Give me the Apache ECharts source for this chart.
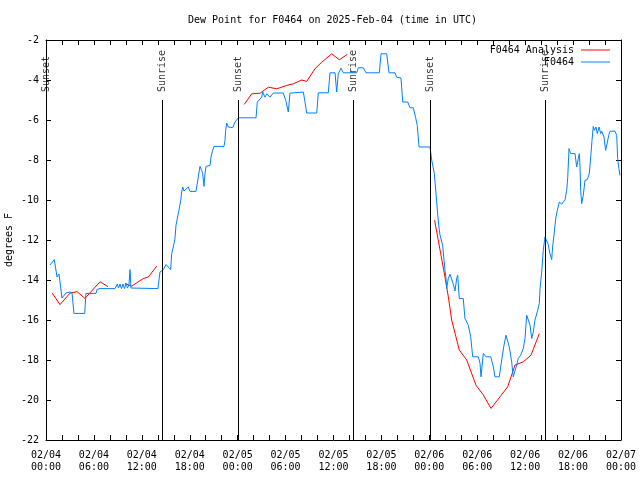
<!DOCTYPE html>
<html>
<head>
<meta charset="utf-8">
<script src="https://cdn.jsdelivr.net/npm/echarts@6/dist/echarts.min.js"></script>
<style>html,body{margin:0;padding:0;background:#fff}#c{width:640px;height:480px}</style>
</head>
<body>
<div id="c"></div>
<script>
// Hours since 2025-02-04 00:00 UTC
var xTickLabels = ['02/04\n00:00','02/04\n06:00','02/04\n12:00','02/04\n18:00','02/05\n00:00','02/05\n06:00','02/05\n12:00','02/05\n18:00','02/06\n00:00','02/06\n06:00','02/06\n12:00','02/06\n18:00','02/07\n00:00'];

var obsHours = [0.5,1.04,1.38,1.63,2.0,2.25,2.5,3.0,3.26,3.5,4.85,5.0,6.26,6.39,6.76,8.64,8.93,9.08,9.27,9.45,9.64,9.83,10.02,10.2,10.39,10.52,10.64,10.89,14.02,14.27,14.69,15.03,15.31,15.53,15.61,15.74,15.94,16.15,16.28,16.49,16.65,16.87,16.99,17.12,17.28,17.53,17.82,18.03,18.78,18.95,19.07,19.28,19.5,19.62,19.78,19.91,20.04,20.54,20.66,20.87,21.04,22.29,22.41,22.5,22.63,22.83,23.38,23.67,24.08,26.3,26.46,27.01,27.13,27.42,27.64,28.05,28.46,29.71,30.02,30.34,30.55,32.22,32.43,32.64,33.9,34.1,35.35,35.56,36.19,36.4,36.6,36.94,37.23,38.9,39.1,39.73,40.07,41.74,41.95,42.66,42.95,43.7,43.91,44.45,44.67,45.29,45.58,46.0,46.29,46.49,46.71,48.08,48.3,48.62,48.84,49.05,49.25,49.34,49.55,49.67,49.84,49.96,50.09,50.17,50.37,50.59,50.8,51.0,51.21,51.42,51.55,51.75,52.25,52.46,52.88,53.18,53.43,54.13,54.35,54.47,54.76,55.1,55.69,56.01,56.22,56.76,57.06,57.35,57.6,57.76,58.01,58.31,58.51,58.73,58.94,59.14,59.44,59.77,59.98,60.19,60.32,60.61,60.82,61.02,61.23,61.45,61.57,61.77,61.86,62.07,62.27,62.48,62.69,62.89,63.1,63.32,63.44,63.61,63.74,63.86,64.03,64.28,64.58,64.78,64.99,65.2,65.33,65.49,65.7,66.24,66.45,66.65,66.78,66.87,66.95,67.08,67.28,67.49,67.78,68.03,68.24,68.37,68.53,68.66,68.87,69.03,69.25,69.46,69.58,69.87,70.08,70.28,70.46,70.62,71.25,71.46,71.58,71.74,71.87];
var obsValues = [-13.25,-12.98,-13.85,-13.7,-14.9,-14.85,-14.65,-14.6,-14.65,-15.67,-15.67,-14.67,-14.67,-14.47,-14.43,-14.43,-14.2,-14.4,-14.2,-14.43,-14.2,-14.43,-14.17,-14.4,-14.25,-13.48,-14.4,-14.43,-14.43,-13.6,-13.48,-13.23,-13.35,-13.25,-13.48,-12.68,-12.35,-11.93,-11.26,-11.26,-10.51,-10.02,-9.6,-9.35,-9.55,-9.52,-9.35,-9.57,-9.57,-9.15,-8.85,-8.32,-8.52,-8.68,-9.32,-8.68,-8.32,-8.27,-7.85,-7.52,-7.32,-7.32,-7.02,-6.52,-6.15,-6.35,-6.38,-6.1,-5.89,-5.89,-5.1,-4.86,-4.6,-4.86,-4.69,-4.86,-4.65,-4.65,-5.02,-5.6,-4.66,-4.6,-5.1,-5.65,-5.65,-4.64,-4.64,-3.64,-3.64,-4.6,-3.69,-3.41,-3.64,-3.64,-3.39,-3.39,-3.64,-3.64,-2.69,-2.69,-3.64,-3.64,-3.86,-3.9,-5.1,-5.1,-5.39,-5.39,-5.89,-6.27,-7.35,-7.35,-8.0,-8.68,-9.68,-10.76,-11.51,-11.76,-11.76,-12.26,-13.01,-13.51,-13.93,-14.43,-13.93,-13.71,-13.76,-14.21,-14.55,-13.93,-13.76,-14.93,-14.93,-15.93,-16.26,-16.84,-17.84,-17.84,-18.17,-18.84,-17.67,-17.84,-17.84,-18.34,-18.84,-18.84,-18.0,-17.26,-16.76,-16.68,-17.34,-18.09,-18.84,-18.84,-18.25,-17.92,-17.76,-17.42,-16.92,-15.76,-15.67,-16.26,-16.92,-16.59,-16.0,-15.92,-15.51,-15.17,-14.43,-13.6,-12.51,-11.85,-11.85,-12.22,-12.68,-12.98,-12.35,-11.76,-11.26,-10.85,-10.51,-10.1,-10.21,-10.31,-9.98,-9.52,-8.88,-7.43,-7.68,-7.68,-8.35,-7.93,-7.68,-8.35,-9.52,-10.18,-9.76,-9.02,-8.98,-8.68,-7.68,-7.02,-6.32,-6.52,-6.35,-6.68,-6.35,-6.68,-6.56,-6.85,-7.52,-7.52,-6.77,-6.56,-6.56,-6.77,-7.93,-8.43,-8.77];

var anaHours = [0.79,1.75,3.0,3.88,4.88,6.76,7.76,8.8,9.89,10.73,11.36,12.18,12.81,13.86,19.0,24.83,25.76,26.8,27.84,28.89,30.14,30.97,32.02,32.65,33.68,34.52,35.78,36.73,37.73,43.0,48.66,49.96,50.38,50.8,51.75,52.68,53.84,54.76,55.72,56.85,57.81,58.73,59.77,60.73,61.77];
var anaValues = [-14.66,-15.23,-14.66,-14.58,-14.92,-14.09,-14.33,null,-14.17,-14.31,-14.14,-13.93,-13.85,-13.31,null,-5.22,-4.69,-4.66,-4.36,-4.44,-4.27,-4.19,-4.0,-4.07,-3.44,-3.11,-2.69,-2.99,-2.72,null,-11.01,-13.85,-14.84,-16.0,-17.5,-18.0,-19.26,-19.75,-20.42,-19.84,-19.34,-18.25,-18.09,-17.76,-16.68];

var sunNames = ['Sunset','Sunrise','Sunset','Sunrise','Sunset','Sunrise'];
var sunHours = [0.05,14.55,24.08,38.45,48.12,62.5];
var sunLineTop = -5.0;

var FONT = 'DejaVu Sans Mono';
function zip(a,b){var r=[];for(var i=0;i<a.length;i++)r.push([a[i],b[i]]);return r;}

var chart = echarts.init(document.getElementById('c'), null, {renderer:'canvas'});
var axisCommon = {
  axisLine:{show:true,onZero:false,lineStyle:{color:'#000',width:1}},
  axisTick:{show:true,inside:true,length:5,lineStyle:{color:'#000',width:1}},
  splitLine:{show:false}
};
var markData = [];
for (var i=0;i<sunHours.length;i++) markData.push([{coord:[sunHours[i],sunLineTop]},{coord:[sunHours[i],-22]}]);
var lineIcon = 'path://M0,0H30V1H0Z';

chart.setOption({
  animation:false,
  backgroundColor:'#fff',
  textStyle:{fontFamily:FONT},
  title:{text:'Dew Point for F0464 on 2025-Feb-04 (time in UTC)',left:188,top:15,padding:0,
    textStyle:{fontFamily:FONT,fontSize:10,fontWeight:'normal',color:'#000'}},
  legend:{orient:'vertical',right:30,top:45,align:'right',itemWidth:29,itemHeight:12,itemGap:2,padding:0,
    textStyle:{fontFamily:FONT,fontSize:10,color:'#000',padding:[0,2,0,0]},
    formatter:function(n){var s=n;while(s.length<14)s=' '+s;return s;},
    data:[{name:'F0464 Analysis',icon:lineIcon},{name:'F0464',icon:lineIcon}]},
  grid:{left:46,right:19,top:40,bottom:40,containLabel:false,outerBoundsMode:'none'},
  xAxis:[
    Object.assign({type:'value',min:0,max:72,interval:2,position:'bottom',
      axisLabel:{show:true,fontFamily:FONT,fontSize:10,color:'#000',lineHeight:12,margin:9,showMinLabel:true,showMaxLabel:true,
        formatter:function(v){return (Math.round(v)%6===0)?xTickLabels[Math.round(v)/6]:'';}}},axisCommon),
    Object.assign({type:'value',min:0,max:72,interval:2,position:'top',axisLabel:{show:false}},axisCommon)
  ],
  yAxis:[
    Object.assign({type:'value',min:-22,max:-2,interval:2,position:'left',name:'degrees F',nameLocation:'middle',nameGap:32,nameRotate:90,nameMoveOverlap:false,
      nameTextStyle:{fontFamily:FONT,fontSize:10,color:'#000'},
      axisLabel:{fontFamily:FONT,fontSize:10,color:'#000',margin:7}},axisCommon),
    Object.assign({type:'value',min:-22,max:-2,interval:2,position:'right',axisLabel:{show:false}},axisCommon)
  ],
  series:[
    {name:'F0464 Analysis',type:'line',symbol:'none',connectNulls:false,data:zip(anaHours,anaValues),
      lineStyle:{color:'#ff0000',width:1},itemStyle:{color:'#ff0000'},z:2},
    {name:'F0464',type:'line',symbol:'none',data:zip(obsHours,obsValues),
      lineStyle:{color:'#0080ff',width:1},itemStyle:{color:'#0080ff'},z:3},
    {name:'sun',type:'scatter',symbolSize:0,data:sunHours.map(function(h,i){return {name:sunNames[i],value:[h,sunLineTop]};}),
      label:{show:true,position:'top',distance:8,rotate:90,align:'left',verticalAlign:'middle',formatter:'{b}',
        fontFamily:FONT,fontSize:10,color:'#000'},
      markLine:{silent:true,symbol:['none','none'],label:{show:false},lineStyle:{color:'#000',width:1,type:'solid'},data:markData},
      z:4}
  ]
});
</script>
</body>
</html>
